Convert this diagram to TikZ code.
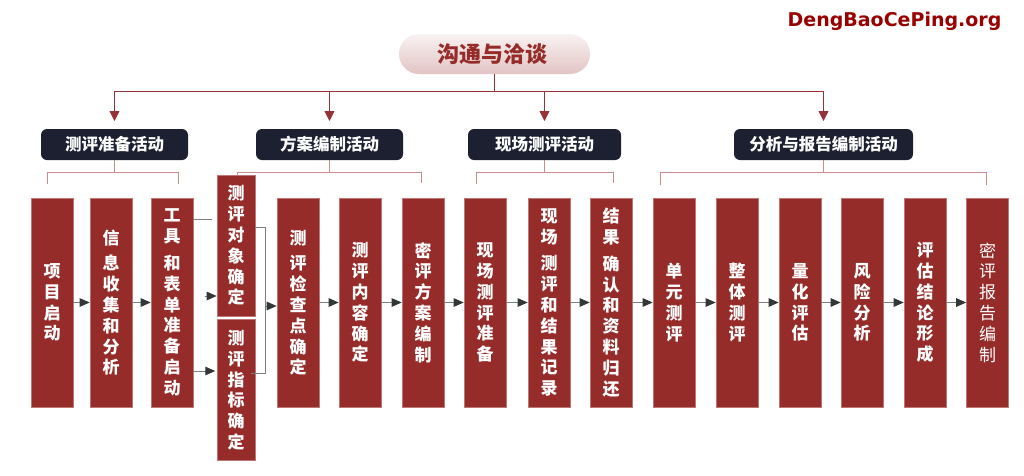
\documentclass[tikz,border=0pt]{standalone}
\usepackage{fontspec}
\newfontfamily\cjk{Noto Sans CJK SC}
\newfontfamily\wmark{DejaVu Sans}
\usetikzlibrary{arrows.meta,positioning}

\begin{document}
\begin{tikzpicture}
\definecolor{boxColour}{RGB}{150, 44, 42}
\definecolor{darkColour}{RGB}{28, 32, 48}
\definecolor{trunkColour}{RGB}{150, 50, 55}
\definecolor{bracketColour}{RGB}{200, 140, 140}
\definecolor{flowColour}{RGB}{125, 125, 125}
\definecolor{tipColour}{RGB}{50, 55, 55}
\tikzstyle{stage}=[rectangle, draw=boxColour!65!white, fill=boxColour, line width=0.6pt, minimum width=42pt, minimum height=209pt, inner sep=0pt, text=white, align=center, text width=22pt, font=\cjk\bfseries\fontsize{17}{20.8}\selectfont]
\tikzstyle{tall}=[stage, minimum width=38pt, minimum height=141pt]
\tikzstyle{group}=[rectangle, rounded corners=6pt, fill=darkColour, minimum height=31pt, inner sep=0pt, text=white, font=\cjk\bfseries\fontsize{16.5}{18}\selectfont]
\tikzstyle{trunk}=[-, thick, color=trunkColour]
\tikzstyle{branch}=[-{Triangle[length=10pt,width=10pt]}, thick, color=trunkColour]
\tikzstyle{bracket}=[-, line width=1pt, color=bracketColour]
\tikzstyle{flow}=[-{Triangle[length=10pt,width=8.5pt,color=tipColour]}, line width=1pt, color=flowColour]
\tikzstyle{stub}=[-, line width=1pt, color=flowColour]

\useasboundingbox (0pt,0pt) rectangle (1024pt,-475pt);

\node [rectangle, rounded corners=20pt, top color=white!94!boxColour, bottom color=white!72!boxColour, minimum width=191pt, minimum height=40pt, inner sep=0pt, text=boxColour, font=\cjk\bfseries\fontsize{22}{24}\selectfont, xshift=494.5pt, yshift=-54pt] (root) {沟通与洽谈\kern5pt};
\node [text=red!60!black, font=\wmark\bfseries\fontsize{19}{22}\selectfont, inner sep=0pt, xshift=894.5pt, yshift=-21pt] (watermark) {DengBaoCePing.org};

\node [group, minimum width=147pt, xshift=114.5pt, yshift=-144.5pt] (prepare) {测评准备活动};
\node [group, minimum width=147pt, xshift=329.5pt, yshift=-144.5pt] (plan) {方案编制活动};
\node [group, minimum width=153pt, xshift=544.5pt, yshift=-144.5pt] (site) {现场测评活动};
\node [group, minimum width=179pt, xshift=823.5pt, yshift=-144.5pt] (report) {分析与报告编制活动};

\node [stage, xshift=52pt, yshift=-302.5pt] (start) {项\\目\\启\\动};
\node [stage, xshift=111pt, yshift=-302.5pt] (collect) {信\\[5pt]息\\收\\集\\和\\分\\析};
\node [stage, xshift=172pt, yshift=-302.5pt] (tools) {工\\具\\[6pt]和\\表\\单\\准\\备\\启\\动};
\node [tall, xshift=236pt, yshift=-245.5pt] (object) {测\\评\\对\\象\\确\\定};
\node [tall, xshift=236pt, yshift=-390pt] (index) {测\\评\\指\\标\\确\\定};
\node [stage, xshift=298pt, yshift=-302.5pt] (check) {测\\[5pt]评\\检\\查\\点\\确\\定};
\node [stage, xshift=360pt, yshift=-302.5pt] (content) {测\\评\\内\\容\\确\\定};
\node [stage, xshift=423pt, yshift=-302.5pt] (scheme) {密\\评\\方\\案\\编\\制};
\node [stage, xshift=485pt, yshift=-302.5pt] (ready) {现\\场\\测\\评\\准\\备};
\node [stage, xshift=549pt, yshift=-302.5pt] (record) {现\\场\\[6pt]测\\评\\和\\结\\果\\记\\录};
\node [stage, xshift=611pt, yshift=-302.5pt] (confirm) {结\\果\\[6pt]确\\认\\和\\资\\料\\归\\还};
\node [stage, xshift=674pt, yshift=-302.5pt] (unit) {单\\元\\测\\评};
\node [stage, xshift=737pt, yshift=-302.5pt] (whole) {整\\体\\测\\评};
\node [stage, xshift=800pt, yshift=-302.5pt] (quant) {量\\化\\评\\估};
\node [stage, xshift=862pt, yshift=-302.5pt] (risk) {风\\险\\分\\析};
\node [stage, xshift=925pt, yshift=-302.5pt] (verdict) {评\\估\\结\\论\\形\\成};
\node [stage, xshift=987.5pt, yshift=-302.5pt, font=\cjk\fontsize{17}{20.8}\selectfont] (final) {密\\评\\报\\告\\编\\制};

\coordinate (fork) at (494.5pt,-91pt);
\coordinate (forkLeft) at (114.5pt,-91pt);
\coordinate (forkRight) at (823.5pt,-91pt);
\coordinate (floatTip) at (205pt,-296pt);
\coordinate (toolsTop) at (212pt,-219pt);
\coordinate (mergeTop) at (265pt,-227pt);
\coordinate (mergeBottom) at (265pt,-373pt);
\coordinate (mergeMid) at (265pt,-306pt);

\draw [trunk] (root.south) -- (fork);
\draw [trunk] (forkLeft) -- (forkRight);
\draw [branch] (forkLeft) -- ++(0pt,-30pt);
\draw [branch] (plan.north |- fork) -- ++(0pt,-30pt);
\draw [branch] (site.north |- fork) -- ++(0pt,-30pt);
\draw [branch] (forkRight) -- ++(0pt,-30pt);

\draw [bracket] (prepare.south) -- ++(0pt,-11.5pt);
\draw [bracket] (47pt,-184pt) |- (178pt,-172pt) -- ++(0pt,-12pt);
\draw [bracket] (plan.south) -- ++(0pt,-11.5pt);
\draw [bracket] (237pt,-175pt) |- (421pt,-172pt) -- ++(0pt,-11pt);
\draw [bracket] (site.south) -- ++(0pt,-11.5pt);
\draw [bracket] (476pt,-184pt) |- (613pt,-172pt) -- ++(0pt,-11pt);
\draw [bracket] (report.south) -- ++(0pt,-11.5pt);
\draw [bracket] (660pt,-185pt) |- (986pt,-172pt) -- ++(0pt,-13pt);

\path [flow]
(start) edge (collect)
(collect) edge (tools)
(check) edge (content)
(content) edge (scheme)
(scheme) edge (ready)
(ready) edge (record)
(record) edge (confirm)
(confirm) edge (unit)
(unit) edge (whole)
(whole) edge (quant)
(quant) edge (risk)
(risk) edge (verdict)
(verdict) edge (final);

\draw [stub] (tools.east |- toolsTop) -- (toolsTop);
\draw [flow] (floatTip) -- (object.west |- floatTip);
\draw [flow] (tools.east |- index.west) ++(0pt,19pt) -- ++(22pt,0pt);
\draw [stub] (object.east |- mergeTop) -- (mergeTop) -- (mergeBottom) -- ++(-14pt,0pt);
\draw [flow] (mergeMid) -- (check.west |- mergeMid);
\end{tikzpicture}
\end{document}
